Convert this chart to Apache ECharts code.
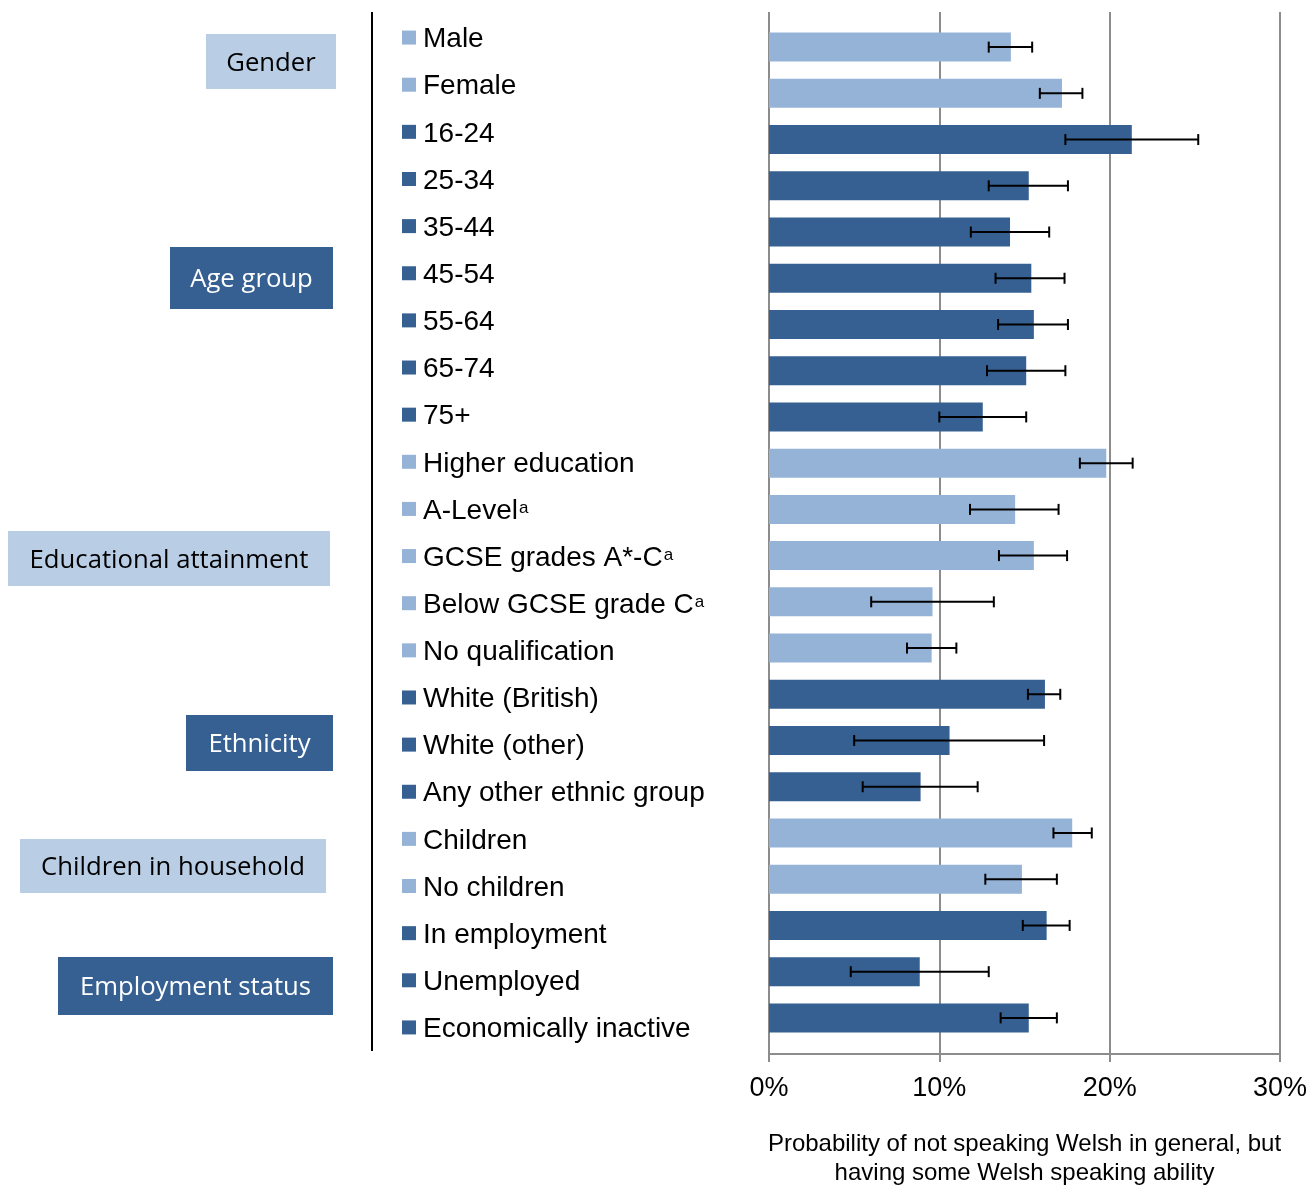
<!DOCTYPE html>
<html>
<head>
<meta charset="utf-8">
<script src="https://cdn.jsdelivr.net/npm/echarts@6/dist/echarts.min.js"></script>
<style>
html,body{margin:0;padding:0;background:#fff;}
#chart{width:1311px;height:1187px;}
</style>
</head>
<body>
<div id="chart"></div>
<script>
// ---- data ----
const categories = ['Male','Female','16-24','25-34','35-44','45-54','55-64','65-74','75+',
  'Higher education','A-Level','GCSE grades A*-C','Below GCSE grade C','No qualification',
  'White (British)','White (other)','Any other ethnic group','Children','No children',
  'In employment','Unemployed','Economically inactive'];
const values = [14.2,17.2,21.3,15.25,14.15,15.4,15.55,15.1,12.55,
  19.8,14.45,15.55,9.6,9.55,
  16.2,10.6,8.9,17.8,14.85,
  16.3,8.85,15.25];
const lowerCI = [12.9,15.9,17.4,12.9,11.85,13.3,13.45,12.8,10.0,
  18.25,11.8,13.5,6.0,8.1,
  15.2,5.0,5.5,16.7,12.7,
  14.9,4.8,13.6];
const upperCI = [15.45,18.4,25.2,17.55,16.45,17.35,17.55,17.4,15.1,
  21.35,17.0,17.5,13.2,11.0,
  17.1,16.15,12.25,18.95,16.9,
  17.65,12.9,16.9];
const groupNames = ['Gender','Age group','Educational attainment','Ethnicity','Children in household','Employment status'];
const groupSizes = [2,7,5,3,2,3];
const footnotes = {'A-Level':'a','GCSE grades A*-C':'a','Below GCSE grade C':'a'};
const axisTicks = [0,10,20,30];
const axisTitle = 'Probability of not speaking Welsh in general, but\nhaving some Welsh speaking ability';

// ---- styling ----
const LIGHT = '#95B3D7', DARK = '#366092', BOXLIGHT = '#B9CDE5';
const groupOf = [];
groupSizes.forEach((n, g) => { for (let i = 0; i < n; i++) groupOf.push(g); });
const isDark = i => groupOf[i] % 2 === 1;

// group label box layout (annotation positions)
const boxLayout = [
  {x:206,y:34,w:130,h:55},
  {x:170,y:247,w:163,h:62},
  {x:8,y:531,w:322,h:55},
  {x:186,y:715,w:147,h:56},
  {x:20,y:839,w:306,h:54},
  {x:58,y:957,w:275,h:58}
];

const chart = echarts.init(document.getElementById('chart'));
const FONT = '"Liberation Sans", Arial, sans-serif';

const graphics = [
  {type:'line', shape:{x1:372,y1:12,x2:372,y2:1051}, style:{stroke:'#000',lineWidth:2}, z:10}
];
groupNames.forEach((name, g) => {
  const b = boxLayout[g];
  const dark = g % 2 === 1;
  graphics.push({type:'rect', shape:{x:b.x,y:b.y,width:b.w,height:b.h}, style:{fill: dark ? DARK : BOXLIGHT}, z:10});
  graphics.push({type:'text', x:b.x + b.w/2, y:b.y + b.h/2 + 2, style:{text:name, fill: dark ? '#fff' : '#000',
    font:'25.7px "Open Sans", sans-serif', align:'center', verticalAlign:'middle'}, z:11});
});

const option = {
  animation: false,
  backgroundColor: '#fff',
  grid: [
    {left:769, right:31, top:12, bottom:133, containLabel:false, outerBoundsMode:'none'},
    {left:769, right:31, top:24, bottom:146, containLabel:false, outerBoundsMode:'none'},
    {left:769, right:31, top:14, bottom:136, containLabel:false, outerBoundsMode:'none'}
  ],
  xAxis: [
    {gridIndex:0, type:'value', min:0, max:30, interval:10,
      axisLine:{show:true, lineStyle:{color:'#8c8c8c', width:2}},
      axisTick:{show:true, length:8, lineStyle:{color:'#8c8c8c', width:2}},
      splitLine:{show:true, showMinLine:true, showMaxLine:true, lineStyle:{color:'#8c8c8c', width:2}},
      axisLabel:{margin:21, fontSize:27, color:'#000', fontFamily:FONT, formatter:v => v + '%'},
      name: axisTitle, nameLocation:'middle', nameGap:76,
      nameTextStyle:{fontSize:24, color:'#000', fontFamily:FONT, lineHeight:29, align:'center'}
    },
    {gridIndex:1, type:'value', min:0, max:30, interval:10, show:false},
    {gridIndex:2, type:'value', min:0, max:30, interval:10, show:false}
  ],
  yAxis: [
    {gridIndex:0, type:'category', inverse:true, data:categories, show:false},
    {gridIndex:1, type:'category', inverse:true, data:categories, show:false},
    {gridIndex:2, type:'category', inverse:true, data:categories,
      axisLine:{show:false}, axisTick:{show:false}, splitLine:{show:false},
      axisLabel:{
        align:'left', margin:367, fontFamily:FONT,
        formatter:(v, i) => {
          const mk = isDark(i) ? '{md|}' : '{ml|}';
          const sup = footnotes[v] ? '{s|' + footnotes[v] + '}' : '';
          return mk + '{t|' + v + '}' + sup;
        },
        rich:{
          ml:{width:14, height:14, backgroundColor:LIGHT},
          md:{width:14, height:14, backgroundColor:DARK},
          t:{fontSize:28, color:'#000', fontFamily:FONT, padding:[4,0,0,7], lineHeight:30},
          s:{fontSize:17, color:'#000', fontFamily:FONT, verticalAlign:'top', lineHeight:17, padding:[6,0,0,1]}
        }
      }
    }
  ],
  series: [
    {type:'bar', xAxisIndex:1, yAxisIndex:1, barWidth:29,
      data: values.map((v, i) => ({value:v, itemStyle:{color: isDark(i) ? DARK : LIGHT}})),
      z:2
    },
    {type:'custom', xAxisIndex:1, yAxisIndex:1, z:5,
      data: categories.map((c, i) => [i, lowerCI[i], upperCI[i]]),
      renderItem:(params, api) => {
        const idx = api.value(0);
        const p1 = api.coord([api.value(1), idx]);
        const p2 = api.coord([api.value(2), idx]);
        const h = 5.5;
        const st = {stroke:'#000', lineWidth:2};
        return {type:'group', children:[
          {type:'line', shape:{x1:p1[0], y1:p1[1], x2:p2[0], y2:p2[1]}, style:st},
          {type:'line', shape:{x1:p1[0], y1:p1[1]-h, x2:p1[0], y2:p1[1]+h}, style:st},
          {type:'line', shape:{x1:p2[0], y1:p2[1]-h, x2:p2[0], y2:p2[1]+h}, style:st}
        ]};
      }
    }
  ],
  graphic: graphics
};
chart.setOption(option);
</script>
</body>
</html>
